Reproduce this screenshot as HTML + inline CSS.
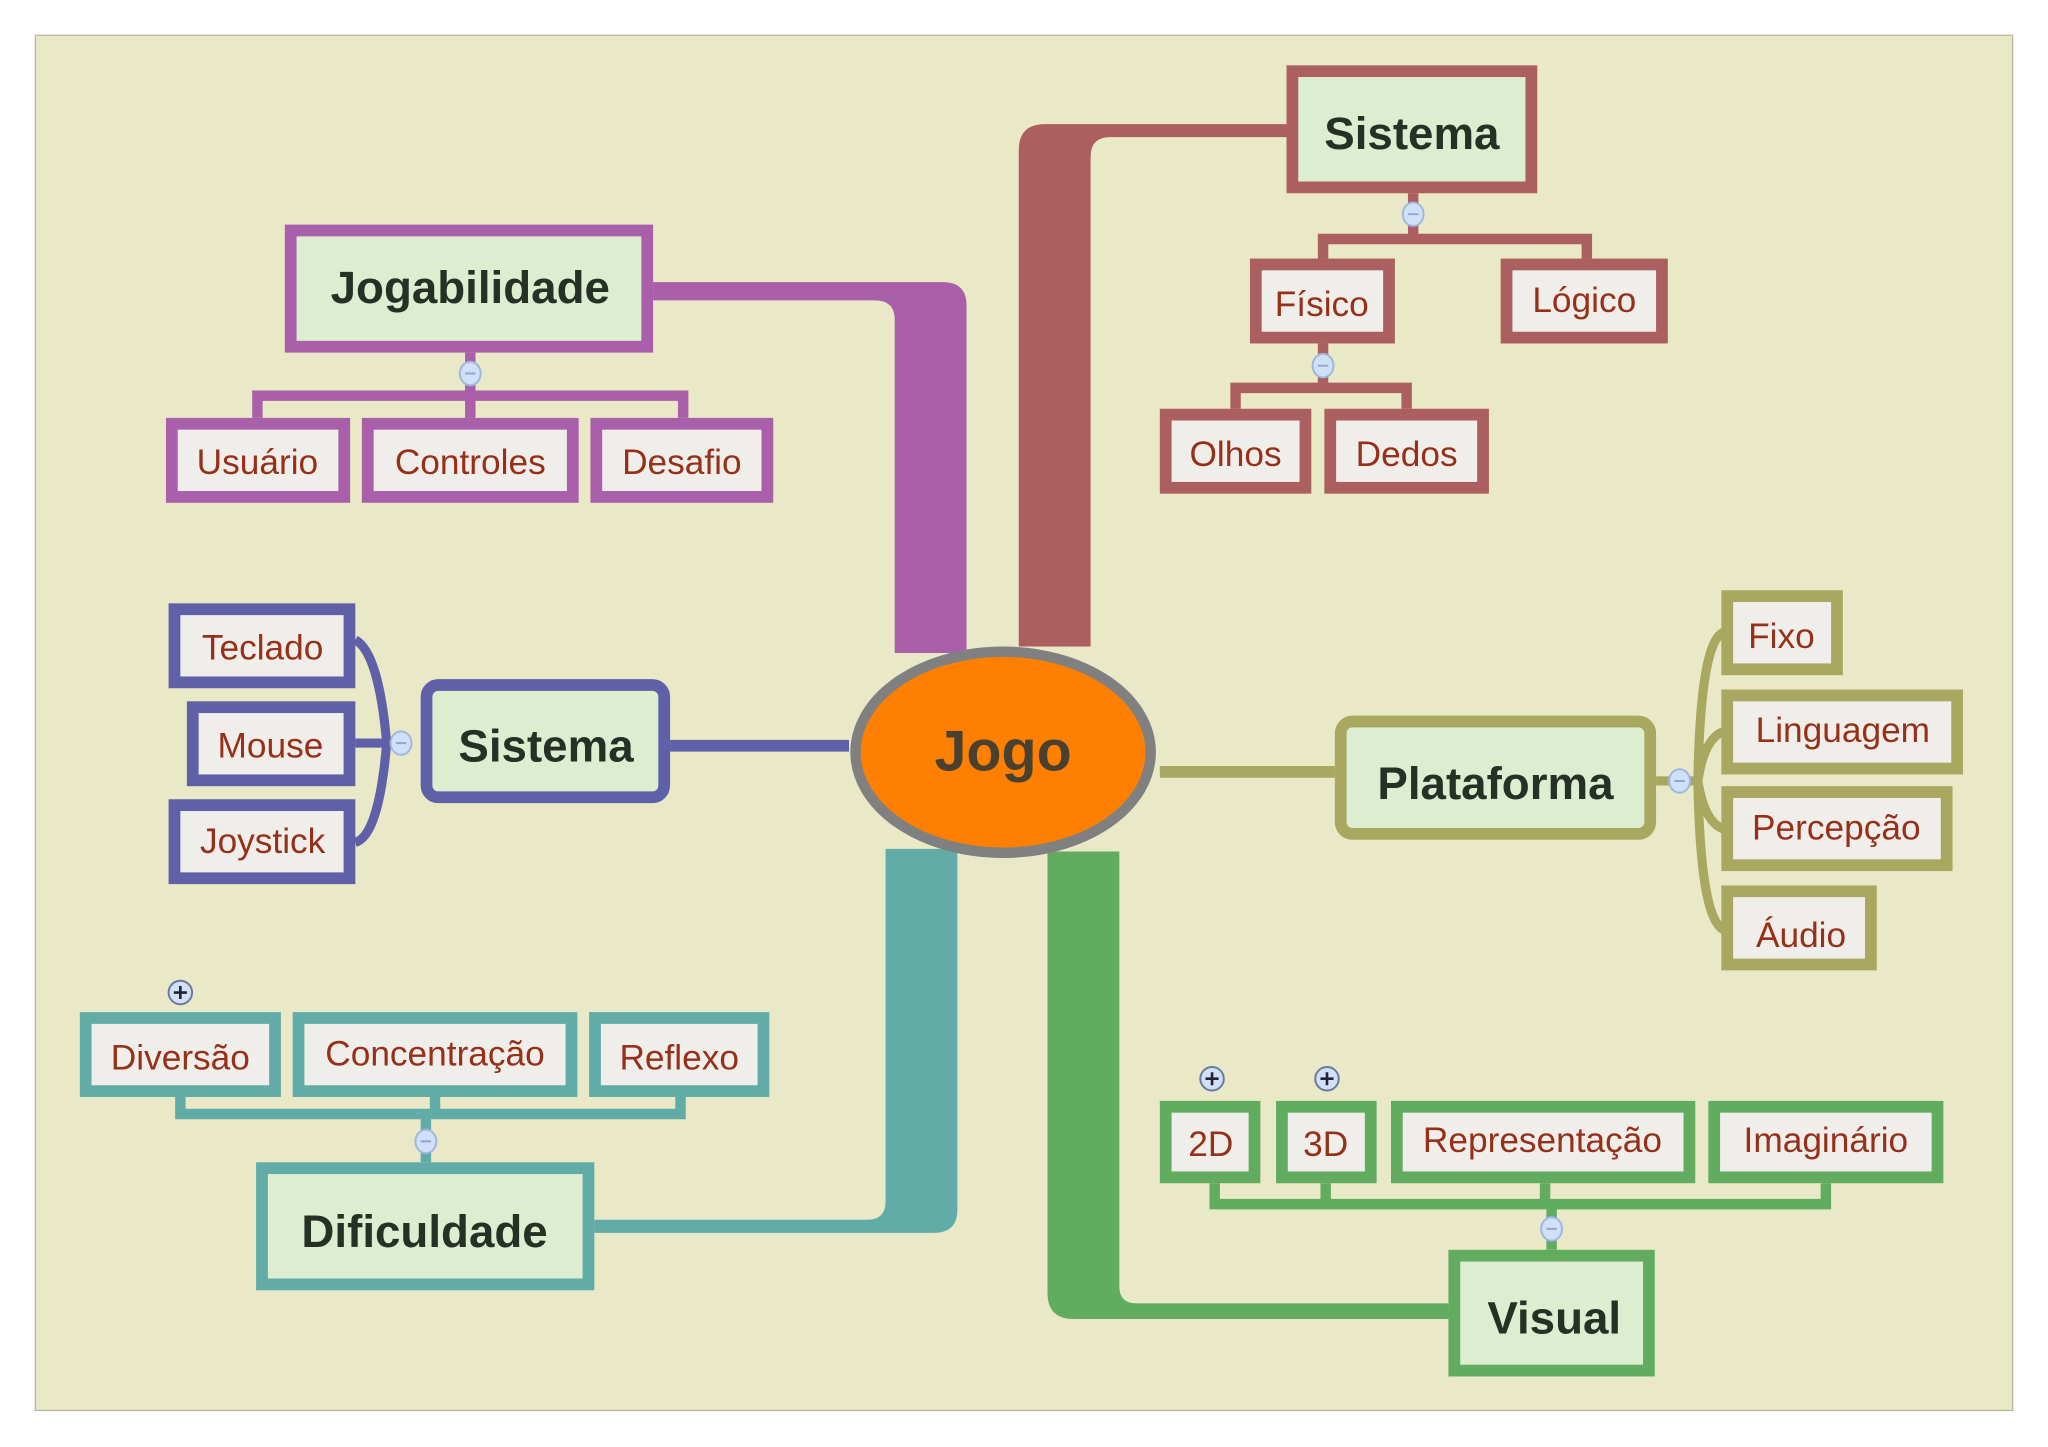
<!DOCTYPE html>
<html><head><meta charset="utf-8"><style>html,body{margin:0;padding:0;background:#fff}svg{display:block}</style></head><body>
<svg width="2048" height="1447" viewBox="0 0 1568 1108" xmlns="http://www.w3.org/2000/svg" font-family="Liberation Sans, DejaVu Sans, sans-serif">
<rect x="27" y="27" width="1514" height="1053" fill="#e9e9c7" stroke="#b8b8a0" stroke-width="1"/>
<g stroke="none">
<path d="M500,216 H722 Q740,216 740,234 V500 H685 V245 Q685,230 670,230 H500 Z" fill="#a95fa9"/>
<path d="M985,95 H800 Q780,95 780,115 V495 H835 V120 Q835,105 850,105 H985 Z" fill="#ab5f5f"/>
<path d="M455,944 H715 Q733,944 733,926 V650 H678 V920 Q678,934 664,934 H455 Z" fill="#62aca8"/>
<path d="M802,652 V990 Q802,1010 822,1010 H1109 V998 H870 Q857,998 857,985 V652 Z" fill="#62ac60"/>
</g>
<line x1="513" y1="571" x2="650" y2="571" stroke="#6060a8" stroke-width="9"/>
<line x1="888" y1="591" x2="1022" y2="591" stroke="#a8a860" stroke-width="9"/>
<g fill="none" stroke="#a95fa9" stroke-width="8"><path d="M360,270 V303 M197,320 V303 H523 V320 M360,303 V320"/></g>
<g fill="none" stroke="#ab5f5f" stroke-width="8"><path d="M1082,148 V183 M1013,198 V183 H1215 V198 M1013,263 V297 M946,313 V297 H1077 V313"/></g>
<g fill="none" stroke="#62aca8" stroke-width="8"><path d="M326,890 V853 M138,840 V853 H521 V840 M333,840 V853"/></g>
<g fill="none" stroke="#62ac60" stroke-width="8"><path d="M1188,957 V922 M930,906 V922 H1398 V906 M1015,906 V922 M1183,906 V922"/></g>
<g fill="none" stroke="#6060a8" stroke-width="7"><path d="M307,569 H296 M296,569 Q290,500 272,490 M296,569 H272 M296,569 Q290,640 272,645"/></g>
<g fill="none" stroke="#a8a860" stroke-width="7"><path d="M1268,598 H1300 M1300,598 Q1302,490 1320,484 M1300,598 Q1305,565 1320,560 M1300,598 Q1305,630 1320,635 M1300,598 Q1302,705 1320,712"/></g>
<g stroke-width="9" fill="#dcedd0">
<rect x="222.5" y="176.5" width="273" height="89" stroke="#a95fa9"/>
<rect x="989.5" y="54.5" width="183" height="89" stroke="#ab5f5f"/>
<rect x="326.5" y="524.5" width="182" height="86" rx="9" stroke="#6060a8"/>
<rect x="1026.5" y="552.5" width="237" height="86" rx="9" stroke="#a8a860"/>
<rect x="200.5" y="894.5" width="250" height="89" stroke="#62aca8"/>
<rect x="1113.5" y="961.5" width="149" height="88" stroke="#62ac60"/>
</g>
<g stroke-width="9" fill="#f0eeea">
<g stroke="#a95fa9"><rect x="131.5" y="324.5" width="132" height="56"/><rect x="281.5" y="324.5" width="157" height="56"/><rect x="456.5" y="324.5" width="131" height="56"/></g>
<g stroke="#ab5f5f"><rect x="961.5" y="202.5" width="102" height="56"/><rect x="1153.5" y="202.5" width="119" height="56"/><rect x="892.5" y="317.5" width="107" height="56"/><rect x="1018.5" y="317.5" width="117" height="56"/></g>
<g stroke="#6060a8"><rect x="133.5" y="466.5" width="134" height="56"/><rect x="147.5" y="541.5" width="120" height="56"/><rect x="133.5" y="616.5" width="134" height="56"/></g>
<g stroke="#a8a860"><rect x="1322.5" y="456.5" width="84" height="56"/><rect x="1322.5" y="532.5" width="176" height="56"/><rect x="1322.5" y="606.5" width="168" height="56"/><rect x="1322.5" y="682.5" width="110" height="56"/></g>
<g stroke="#62aca8"><rect x="65.5" y="779.5" width="145" height="56"/><rect x="228.5" y="779.5" width="209" height="56"/><rect x="455.5" y="779.5" width="129" height="56"/></g>
<g stroke="#62ac60"><rect x="892.5" y="847.5" width="68" height="54"/><rect x="981.5" y="847.5" width="68" height="54"/><rect x="1069.5" y="847.5" width="224" height="54"/><rect x="1312.5" y="847.5" width="171" height="54"/></g>
</g>
<ellipse cx="768" cy="576" rx="113" ry="77" fill="#ff8000" stroke="#808080" stroke-width="8"/>
<g fill="#cfe0f8" stroke="#9fb6e0" stroke-width="1.5">
<ellipse cx="360" cy="286" rx="8" ry="9"/><ellipse cx="1082" cy="164" rx="8" ry="9"/><ellipse cx="1013" cy="280" rx="8" ry="9"/><ellipse cx="307" cy="569" rx="8" ry="9"/><ellipse cx="1286" cy="598" rx="8" ry="9"/><ellipse cx="326" cy="874" rx="8" ry="9"/><ellipse cx="1188" cy="941" rx="8" ry="9"/>
</g>
<g stroke="#8fa6d0" stroke-width="1.5"><path d="M356,286h8M1078,164h8M1009,280h8M303,569h8M1282,598h8M322,874h8M1184,941h8"/></g>
<g fill="#cfe0f8" stroke="#6a7a9a" stroke-width="1.5"><ellipse cx="138" cy="760" rx="9" ry="9"/><ellipse cx="928" cy="826" rx="9" ry="9"/><ellipse cx="1016" cy="826" rx="9" ry="9"/></g>
<g stroke="#223" stroke-width="2"><path d="M133,760h10M138,755v10M923,826h10M928,821v10M1011,826h10M1016,821v10"/></g>
<g font-weight="bold" fill="#263024" font-size="35" text-anchor="middle">
<text x="360" y="232">Jogabilidade</text><text x="1081" y="114">Sistema</text><text x="418" y="583">Sistema</text><text x="1145" y="612">Plataforma</text><text x="325" y="955">Dificuldade</text><text x="1190" y="1021">Visual</text>
<text x="768" y="590" font-size="44" fill="#4a4030">Jogo</text>
</g>
<g fill="#963018" font-size="27" text-anchor="middle">
<text x="197" y="363">Usuário</text><text x="360" y="363">Controles</text><text x="522" y="363">Desafio</text>
<text x="1012" y="242">Físico</text><text x="1213" y="239">Lógico</text><text x="946" y="357">Olhos</text><text x="1077" y="357">Dedos</text>
<text x="201" y="505">Teclado</text><text x="207" y="580">Mouse</text><text x="201" y="653">Joystick</text>
<text x="1364" y="496">Fixo</text><text x="1411" y="568">Linguagem</text><text x="1406" y="643">Percepção</text><text x="1379" y="725">Áudio</text>
<text x="138" y="819">Diversão</text><text x="333" y="816">Concentração</text><text x="520" y="819">Reflexo</text>
<text x="927" y="885">2D</text><text x="1015" y="885">3D</text><text x="1181" y="882">Representação</text><text x="1398" y="882">Imaginário</text>
</g>
</svg>
</body></html>
